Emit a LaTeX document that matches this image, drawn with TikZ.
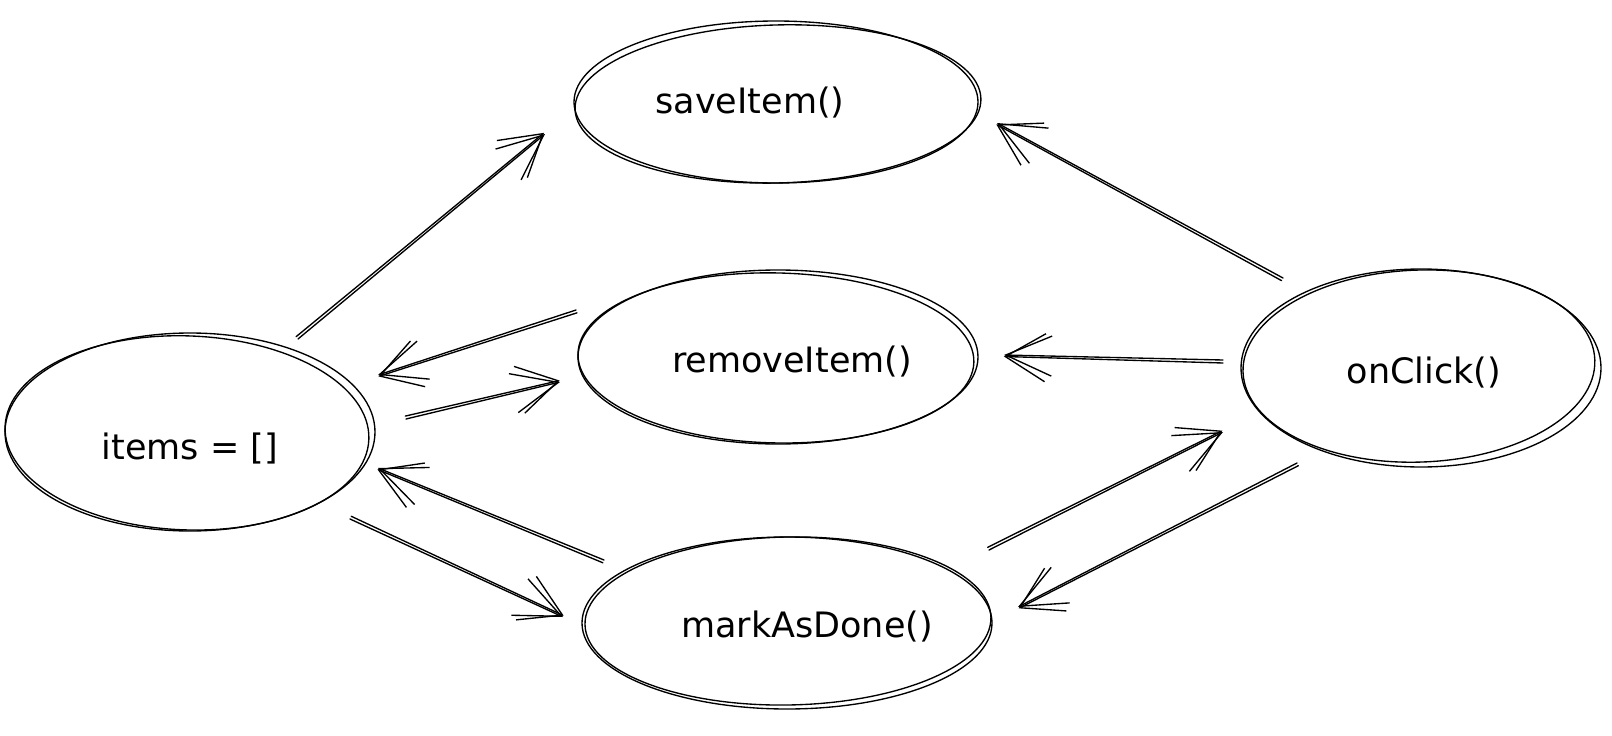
\documentclass[tikz,border=0pt]{standalone}
\usepackage{fontspec}
\setmainfont{DejaVu Sans}
\usetikzlibrary{shapes.geometric,arrows.meta,calc}

\tikzset{
  stroke/.style={line width=1.35pt, draw=black, line cap=round, line join=round},
  blob/.style={ellipse, stroke, inner sep=0pt},
  label/.style={font=\fontsize{35}{42}\selectfont, inner sep=0pt},
  arr/.style={stroke, -{Straight Barb[length=46pt, width=40pt, line width=1.35pt]}},
  arrb/.style={stroke, -{Straight Barb[length=40pt, width=48pt, line width=1.35pt]}},
}

% second, slightly shifted stroke round an ellipse node
\newcommand\roughring[5]{%
  \draw[stroke, rotate around={#2:(#1.center)}] (#1.center) ++(#3) ellipse [x radius=#4, y radius=#5];}

% a hand-drawn arrow: two near-parallel strokes
\newcommand\roughlink[2]{%
  \draw[arr] (#1) -- (#2);
  \draw[arrb] ($(#1)!3pt!90:(#2)$) -- ($(#2)!1.5pt!-90:(#1)$);}

\begin{document}
\begin{tikzpicture}[x=1pt, y=-1pt]
\useasboundingbox (0,0) rectangle (1612,736);

% ellipses
\node[blob, minimum width=404pt, minimum height=162pt] (save) at (776,102) {};
\roughring{save}{1.5}{2,2}{203pt}{79pt}
\node[blob, minimum width=400pt, minimum height=174pt] (remove) at (778,357) {};
\roughring{remove}{-1.2}{-2,1}{198pt}{85pt}
\node[blob, minimum width=410pt, minimum height=172pt] (done) at (787,623) {};
\roughring{done}{1.0}{1,-2}{203pt}{84pt}
\node[blob, minimum width=370pt, minimum height=198pt] (items) at (190,432) {};
\roughring{items}{-2.0}{-3,1}{182pt}{97pt}
\node[blob, minimum width=360pt, minimum height=198pt] (click) at (1421,368) {};
\roughring{click}{2.0}{-2,-2}{176pt}{96pt}

% texts
\node[label] (saveT) at (750,103) {saveItem()};
\node[label] (removeT) at (792,362) {removeItem()};
\node[label] (doneT) at (807,627) {markAsDone()};
\node[label] (itemsT) at (190,449) {items = []};
\node[label] (clickT) at (1424,373) {onClick()};

% arrow end points
\coordinate (i1) at (298,339);  \coordinate (s1) at (545,134);
\coordinate (r1) at (576,310);  \coordinate (i2) at (378,375);
\coordinate (i3) at (406,419);  \coordinate (r2) at (560,382);
\coordinate (d1) at (604,560);  \coordinate (i4) at (378,468);
\coordinate (i5) at (350,519);  \coordinate (d2) at (563,617);
\coordinate (c1) at (1283,278); \coordinate (s2) at (997,123);
\coordinate (c2) at (1223,360); \coordinate (r3) at (1004,355);
\coordinate (d3) at (989,550);  \coordinate (c3) at (1223,432);
\coordinate (c4) at (1297,463); \coordinate (d4) at (1018,607);

% connectors
\roughlink{i1}{s1}
\roughlink{r1}{i2}
\roughlink{i3}{r2}
\roughlink{d1}{i4}
\roughlink{i5}{d2}
\roughlink{c1}{s2}
\roughlink{c2}{r3}
\roughlink{d3}{c3}
\roughlink{c4}{d4}
\end{tikzpicture}
\end{document}
